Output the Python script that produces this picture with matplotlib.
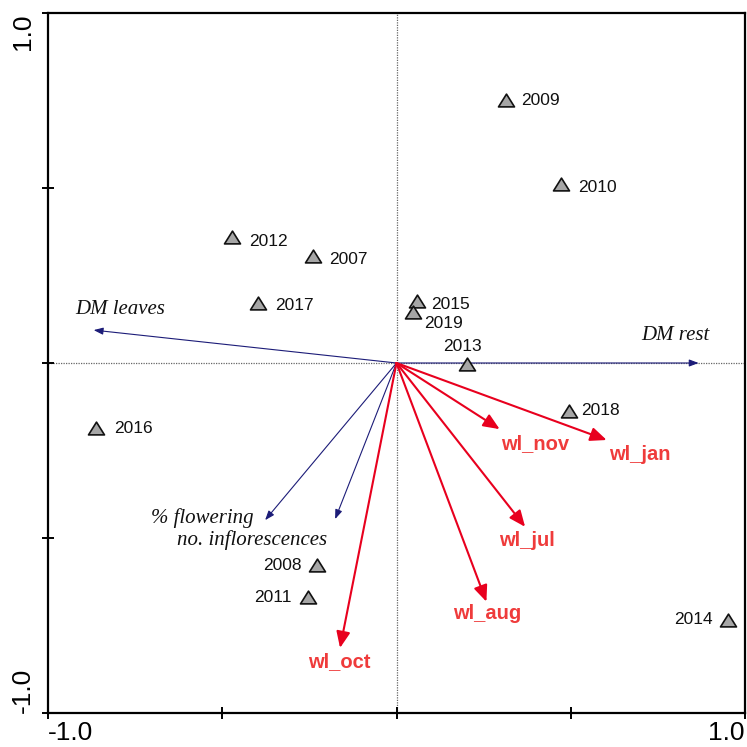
import matplotlib
matplotlib.use("Agg")
import matplotlib.pyplot as plt
from matplotlib.path import Path
from matplotlib.patches import ArrowStyle

# ---- data ----
years = ["2009", "2010", "2012", "2007", "2017", "2016", "2015", "2019",
         "2013", "2018", "2008", "2011", "2014"]
year_x = [0.313, 0.473, -0.473, -0.241, -0.396, -0.861, 0.060, 0.046,
          0.201, 0.494, -0.227, -0.255, 0.950]
year_y = [0.751, 0.511, 0.360, 0.306, 0.171, -0.186, 0.177, 0.146,
          -0.003, -0.137, -0.577, -0.669, -0.734]

resp_names = ["DM leaves", "DM rest", "% flowering", "no. inflorescences"]
resp_x = [-0.869, 0.867, -0.377, -0.176]
resp_y = [0.094, 0.0, -0.449, -0.446]

env_names = ["wl_nov", "wl_jan", "wl_jul", "wl_aug", "wl_oct"]
env_x = [0.296, 0.603, 0.369, 0.258, -0.162]
env_y = [-0.189, -0.220, -0.468, -0.682, -0.814]

tick_vals = [-1.0, -0.5, 0.0, 0.5, 1.0]
tick_labels = ["-1.0", "", "", "", "1.0"]

# ---- styles / layout (not data) ----
year_offsets = {  # offset pixels, ha
    "2009": (16, 0, "left"), "2010": (17, -3, "left"), "2012": (17, -5, "left"),
    "2007": (17, -4, "left"), "2017": (17, -2, "left"), "2016": (18, 0, "left"),
    "2015": (14, -3, "left"), "2019": (12, -12, "left"), "2013": (-4, 18, "center"),
    "2018": (12, 0, "left"), "2008": (-16, -1, "right"), "2011": (-16, 0, "right"),
    "2014": (-15, 0, "right"),
}
resp_label_pos = {  # data coords, ha
    "DM leaves": (-0.921, 0.154, "left"),
    "DM rest": (0.898, 0.080, "right"),
    "% flowering": (-0.410, -0.443, "right"),
    "no. inflorescences": (-0.200, -0.506, "right"),
}
env_label_pos = {
    "wl_nov": (0.301, -0.229), "wl_jan": (0.611, -0.260), "wl_jul": (0.293, -0.506),
    "wl_aug": (0.161, -0.717), "wl_oct": (-0.255, -0.854),
}

navy = "#1c1c78"
red_arrow = "#e8001e"
red_text = "#ef3b3b"

fig = plt.figure(figsize=(7.47, 7.47), dpi=100)
ax = fig.add_axes([48 / 747, 1 - 713 / 747, (745 - 48) / 747, (713 - 13) / 747])
ax.set_xlim(-1.0, 1.0)
ax.set_ylim(-1.0, 1.0)

for s in ax.spines.values():
    s.set_linewidth(1.6)
    s.set_color("black")

# centre dotted lines
ax.axhline(0, color="#666666", lw=0.9, ls=(0, (1, 1)), zorder=1)
ax.axvline(0, color="#666666", lw=0.9, ls=(0, (1, 1)), zorder=1)

# response arrows (navy)
for name, x, y in zip(resp_names, resp_x, resp_y):
    ax.annotate("", xy=(x, y), xytext=(0, 0),
                arrowprops=dict(arrowstyle=ArrowStyle("-|>", head_length=0.8, head_width=0.3),
                                color=navy, lw=0.8, shrinkA=0, shrinkB=0, mutation_scale=7),
                zorder=2)
    lx, ly, ha = resp_label_pos[name]
    ax.text(lx, ly, name, ha=ha, va="center", fontsize=15, style="italic",
            family="Liberation Serif", color="#111111")

# environmental arrows (red)
for name, x, y in zip(env_names, env_x, env_y):
    ax.annotate("", xy=(x, y), xytext=(0, 0),
                arrowprops=dict(arrowstyle=ArrowStyle("-|>", head_length=0.75, head_width=0.32),
                                color=red_arrow, lw=1.5, shrinkA=0, shrinkB=0, mutation_scale=13),
                zorder=3)
    lx, ly = env_label_pos[name]
    ax.text(lx, ly, name, ha="left", va="center", fontsize=14.5, fontweight="bold",
            family="Liberation Sans", color=red_text)

# year points
tri = Path([(-1, -0.8), (1, -0.8), (0, 0.8), (-1, -0.8)],
           [Path.MOVETO, Path.LINETO, Path.LINETO, Path.CLOSEPOLY])
ax.plot(year_x, year_y, ls="none", marker=tri, ms=11.5, mfc="#a6a6a6",
        mec="#111111", mew=1.2, zorder=4)
for name, x, y in zip(years, year_x, year_y):
    dx, dy, ha = year_offsets[name]
    ax.annotate(name, xy=(x, y), xytext=(dx, dy), textcoords="offset pixels",
                ha=ha, va="center", fontsize=12.5, family="Liberation Sans",
                color="#111111", zorder=5)

# ticks
ax.set_xticks(tick_vals)
ax.set_yticks(tick_vals)
ax.set_xticklabels(tick_labels)
ax.set_yticklabels(tick_labels)
ax.tick_params(axis="both", direction="inout", length=9, width=1.4,
               labelsize=19, top=False, right=False)
ax.tick_params(axis="x", pad=1)
ax.tick_params(axis="y", pad=5)
xl = ax.get_xticklabels()
for lbl in xl:
    lbl.set_family("Liberation Sans")
xl[0].set_ha("left")
xl[-1].set_ha("right")
yl = ax.get_yticklabels()
for lbl in yl:
    lbl.set_family("Liberation Sans")
    lbl.set_rotation(90)
    lbl.set_ha("right")
yl[0].set_va("bottom")
yl[-1].set_va("top")

fig.savefig("out.png", dpi=100)
